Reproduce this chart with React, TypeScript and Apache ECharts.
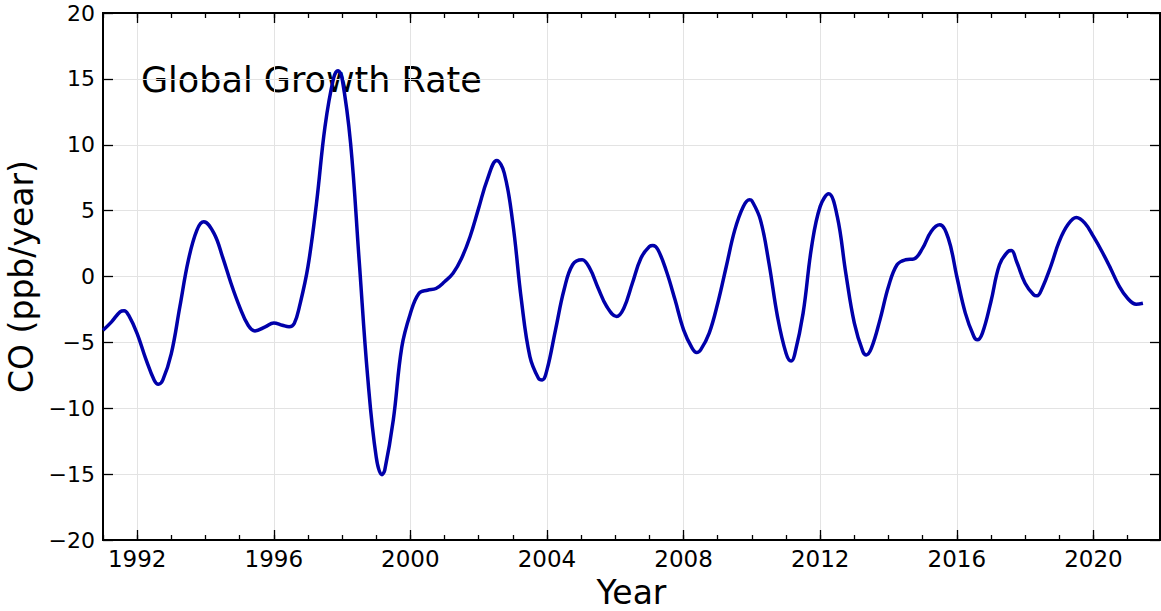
import React, { useEffect, useRef } from "react";
import * as echarts from "echarts";

const years: number[] = [
  1991.0, 1991.25, 1991.5, 1991.62, 1991.75, 1992.0, 1992.25, 1992.5, 1992.62, 1992.75,
  1993.0, 1993.25, 1993.5, 1993.75, 1993.95, 1994.25, 1994.5, 1994.75, 1995.0, 1995.25,
  1995.45, 1995.75, 1996.0, 1996.25, 1996.45, 1996.6, 1996.75, 1997.0, 1997.25, 1997.5,
  1997.75, 1997.88, 1998.0, 1998.25, 1998.5, 1998.75, 1999.0, 1999.17, 1999.25, 1999.5,
  1999.75, 2000.0, 2000.25, 2000.5, 2000.75, 2001.0, 2001.25, 2001.5, 2001.75, 2002.0,
  2002.25, 2002.53, 2002.75, 2003.0, 2003.25, 2003.5, 2003.75, 2003.86, 2004.0, 2004.25,
  2004.5, 2004.75, 2005.03, 2005.25, 2005.5, 2005.75, 2006.04, 2006.25, 2006.5, 2006.75,
  2007.0, 2007.1, 2007.25, 2007.5, 2007.75, 2008.0, 2008.25, 2008.38, 2008.5, 2008.75,
  2009.0, 2009.25, 2009.5, 2009.75, 2009.93, 2010.0, 2010.25, 2010.5, 2010.75, 2011.0,
  2011.15, 2011.25, 2011.5, 2011.75, 2012.0, 2012.25, 2012.5, 2012.75, 2013.0, 2013.25,
  2013.35, 2013.5, 2013.75, 2014.0, 2014.25, 2014.5, 2014.75, 2015.0, 2015.25, 2015.5,
  2015.75, 2016.0, 2016.25, 2016.5, 2016.6, 2016.75, 2017.0, 2017.25, 2017.5, 2017.6,
  2017.75, 2018.0, 2018.25, 2018.35, 2018.5, 2018.75, 2019.0, 2019.25, 2019.5, 2019.75,
  2020.0, 2020.25, 2020.5, 2020.75, 2021.0, 2021.25, 2021.45,
];

const growthRate: number[] = [
  -4.08, -3.44, -2.68, -2.6, -2.94, -4.33, -6.23, -7.87, -8.18, -7.87,
  -5.85, -2.3, 1.24, 3.52, 4.15, 3.27, 1.49, -0.53, -2.3, -3.7,
  -4.13, -3.82, -3.52, -3.7, -3.82, -3.57, -2.3, 0.73, 5.54, 11.37,
  15.04, 15.62, 15.04, 10.1, 1.24, -7.62, -13.7, -15.04, -14.7, -10.9,
  -5.34, -2.81, -1.29, -1.04, -0.91, -0.4, 0.25, 1.39, 3.04, 5.19,
  7.34, 8.81, 7.85, 4.05, -1.77, -6.08, -7.72, -7.85, -7.09, -4.05,
  -1.01, 0.89, 1.27, 0.63, -0.89, -2.28, -3.04, -2.41, -0.51, 1.39,
  2.28, 2.35, 2.03, 0.38, -1.77, -4.05, -5.44, -5.77, -5.57, -4.3,
  -2.03, 0.76, 3.54, 5.32, 5.82, 5.75, 4.3, 1.01, -3.04, -5.82,
  -6.42, -5.95, -2.78, 2.28, 5.32, 6.28, 4.56, 0.25, -3.54, -5.7,
  -5.95, -5.44, -3.29, -0.76, 0.89, 1.27, 1.34, 2.15, 3.42, 3.92,
  2.91, 0.0, -2.78, -4.56, -4.81, -4.3, -1.9, 0.89, 1.9, 1.97,
  1.14, -0.51, -1.39, -1.47, -0.89, 0.76, 2.66, 3.92, 4.48, 4.05,
  3.04, 1.9, 0.63, -0.71, -1.65, -2.1, -2.03,
];

const majorYears: number[] = [1992, 1996, 2000, 2004, 2008, 2012, 2016, 2020];
const minorYears: number[] = [
  1991, 1992, 1993, 1994, 1995, 1996, 1997, 1998, 1999, 2000, 2001, 2002, 2003, 2004, 2005,
  2006, 2007, 2008, 2009, 2010, 2011, 2012, 2013, 2014, 2015, 2016, 2017, 2018, 2019, 2020, 2021,
];

const X_MIN = 1991.0;
const X_MAX = 2021.95;
const FONT = "DejaVu Sans";

export default function App() {
  const ref = useRef<HTMLDivElement>(null);
  useEffect(() => {
    if (!ref.current) return;
    const chart = echarts.init(ref.current, null, { renderer: "svg" });
    const data = years.map((y, i) => [y, growthRate[i]]);
    const lineStyleAxis = { color: "#000", width: 2 };
    const xBase = (position: "top" | "bottom", major: boolean, show: boolean) => ({
      type: "value" as const,
      position,
      min: X_MIN,
      max: X_MAX,
      axisLine: { show: true, onZero: false, lineStyle: lineStyleAxis },
      axisTick: {
        show: true,
        inside: true,
        length: major ? 10 : 5,
        customValues: major ? majorYears : minorYears,
        lineStyle: { color: "#000", width: 1.3 },
      },
      axisLabel: {
        show,
        customValues: majorYears,
        margin: 7,
        fontSize: 23,
        fontFamily: FONT,
        color: "#000",
        formatter: (v: number) => String(v),
      },
      splitLine: { show: show, lineStyle: { color: "#e3e3e3", width: 1 } },
      name: show ? "Year" : "",
      nameLocation: "middle" as const,
      nameGap: 36,
      nameTextStyle: { fontSize: 33, fontFamily: FONT, color: "#000", lineHeight: 33 },
    });
    chart.setOption({
      animation: false,
      backgroundColor: "#fff",
      grid: { left: 103, right: 1, top: 13, bottom: 71, containLabel: false, outerBoundsMode: "none" },
      xAxis: [
        xBase("bottom", true, true),
        xBase("bottom", false, false),
        xBase("top", true, false),
        xBase("top", false, false),
      ],
      yAxis: [
        {
          type: "value",
          position: "left",
          min: -20,
          max: 20,
          interval: 5,
          axisLine: { show: true, onZero: false, lineStyle: lineStyleAxis },
          axisTick: { show: true, inside: true, length: 10, lineStyle: { color: "#000", width: 1.3 } },
          axisLabel: {
            margin: 8,
            fontSize: 22,
            fontFamily: FONT,
            color: "#000",
            formatter: (v: number) => String(v).replace("-", "\u2212"),
          },
          splitLine: { show: true, lineStyle: { color: "#e3e3e3", width: 1 } },
          name: "CO (ppb/year)",
          nameLocation: "middle",
          nameGap: 55,
          nameTextStyle: { fontSize: 33, fontFamily: FONT, color: "#000" },
        },
        {
          type: "value",
          position: "right",
          min: -20,
          max: 20,
          interval: 5,
          axisLine: { show: true, onZero: false, lineStyle: lineStyleAxis },
          axisTick: { show: true, inside: true, length: 10, lineStyle: { color: "#000", width: 1.3 } },
          axisLabel: { show: false },
          splitLine: { show: false },
        },
      ],
      graphic: [
        {
          type: "text",
          left: 141,
          top: 62,
          style: { text: "Global Growth Rate", fontSize: 35, fontFamily: FONT, fill: "#000" },
        },
      ],
      series: [
        {
          type: "line",
          data,
          xAxisIndex: 0,
          yAxisIndex: 0,
          smooth: 0.4,
          showSymbol: false,
          lineStyle: { color: "#0000aa", width: 3.5 },
        },
      ],
    });
    return () => chart.dispose();
  }, []);
  return (
    <div
      ref={ref}
      style={{ position: "fixed", left: 0, top: 0, width: 1161, height: 611 }}
    />
  );
}
